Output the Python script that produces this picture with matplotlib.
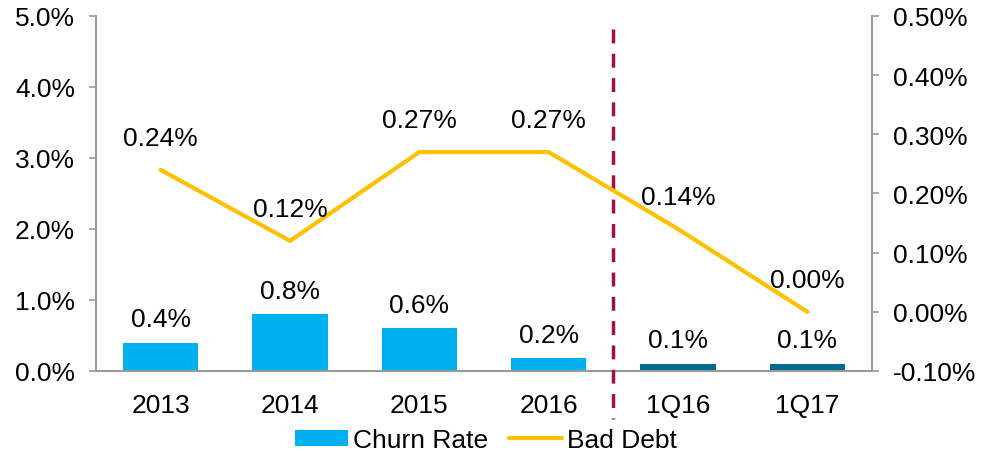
import matplotlib.pyplot as plt
import numpy as np

plt.rcParams['font.family'] = ['Liberation Sans', 'DejaVu Sans']

periods = ['2013', '2014', '2015', '2016', '1Q16', '1Q17']
churn = [0.4, 0.8, 0.6, 0.18, 0.1, 0.1]
churn_labels = ['0.4%', '0.8%', '0.6%', '0.2%', '0.1%', '0.1%']
bad_debt = [0.24, 0.12, 0.27, 0.27, 0.14, 0.00]
bar_colors = ['#00B0F0'] * 4 + ['#006B8F'] * 2

fs = 19
fig = plt.figure(figsize=(9.82, 4.52), dpi=100)
ax = fig.add_axes([96 / 982, 1 - 372 / 452, 776 / 982, 355 / 452])
ax2 = ax.twinx()

x = np.arange(len(periods))
bars = ax.bar(x, churn, width=0.58, color=bar_colors, label='Churn Rate', zorder=2)
for xi, v, t in zip(x, churn, churn_labels):
    ax.annotate(t, (xi, v), xytext=(0, 17), textcoords='offset points',
                ha='center', va='center', fontsize=fs)

line, = ax2.plot(x, bad_debt, color='#FFC000', lw=3, label='Bad Debt',
                 solid_capstyle='round', zorder=3)
for xi, v in zip(x, bad_debt):
    ax2.annotate(f'{v:.2f}%', (xi, v), xytext=(0, 23), textcoords='offset points',
                 ha='center', va='center', fontsize=fs)

ax.set_xlim(-0.5, len(periods) - 0.5)
ax.set_ylim(0, 5)
ax.set_yticks(np.arange(0, 5.01, 1))
ax.set_yticklabels([f'{v:.1f}%' for v in np.arange(0, 5.01, 1)])
ax2.set_ylim(-0.1, 0.5)
ticks2 = np.arange(-0.1, 0.501, 0.1)
ax2.set_yticks(ticks2)
ax2.set_yticklabels([f'{v:.2f}%' if abs(v) > 1e-9 else '0.00%' for v in ticks2])

ax.set_xticks(x)
ax.set_xticklabels(periods)
ax.tick_params(axis='x', length=0, pad=16, labelsize=fs)
for a in (ax, ax2):
    a.tick_params(axis='y', length=5, color='#999999', width=1.2, labelsize=fs, pad=10)
    for s in a.spines.values():
        s.set_visible(False)
ax.spines['left'].set_visible(True)
ax.spines['bottom'].set_visible(True)
ax2.spines['right'].set_visible(True)
for s in (ax.spines['left'], ax.spines['bottom'], ax2.spines['right']):
    s.set_color('#999999')
    s.set_linewidth(1.5)

ax.plot([3.5, 3.5], [4.82, -0.68], color='#A50D45', lw=2.5, ls=(0, (4, 3)),
        clip_on=False, zorder=4)

fig.legend(handles=[bars, line], labels=['Churn Rate', 'Bad Debt'], loc='center',
           bbox_to_anchor=(486 / 982, 1 - 441 / 452), ncol=2, frameon=False,
           fontsize=fs, handlelength=2.0, handleheight=0.55, handletextpad=0.2,
           columnspacing=0.8, borderpad=0)

fig.savefig('out.png', dpi=100)
